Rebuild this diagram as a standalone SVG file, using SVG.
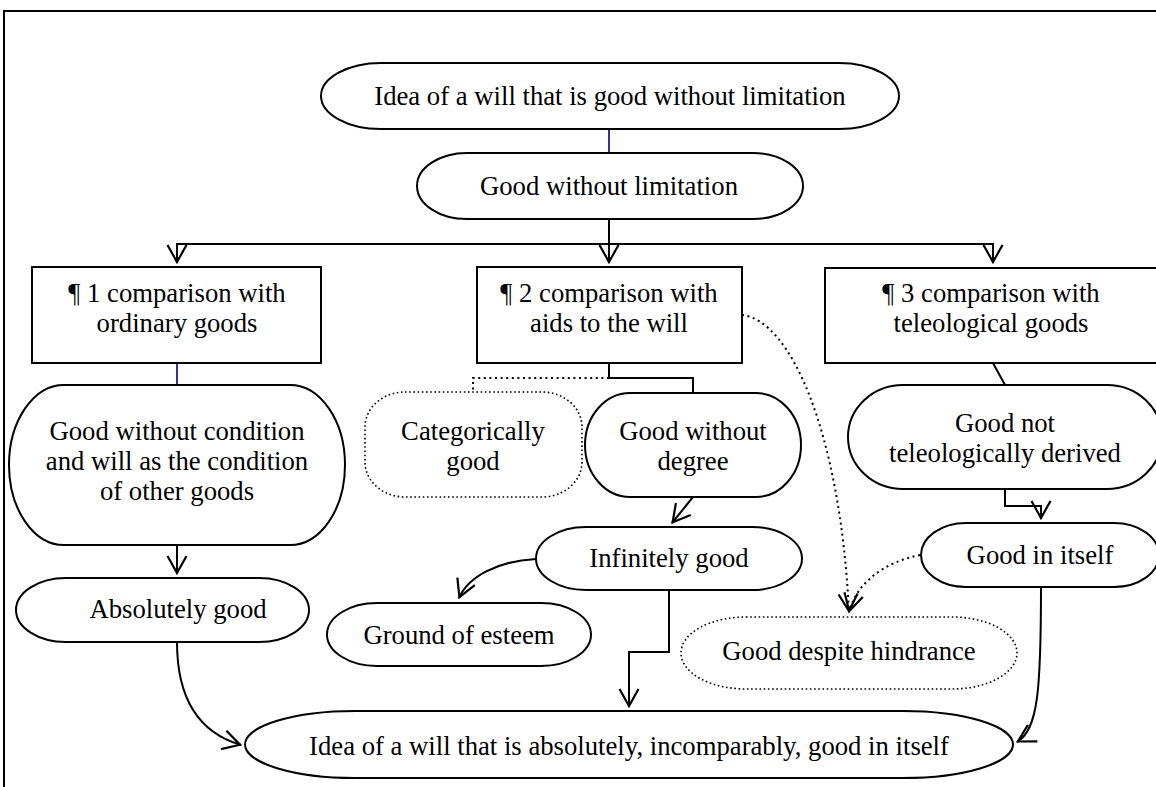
<svg xmlns="http://www.w3.org/2000/svg" width="1156" height="787" viewBox="0 0 1156 787">
  <style>
    .shape { fill: #fff; stroke: #000; stroke-width: 2; }
    .dotted { fill: #fff; stroke: #000; stroke-width: 1.6; stroke-dasharray: 1.6 2.6; }
    .lbl { font-family: "Liberation Serif", "Times New Roman", serif; font-size: 26.7px; fill: #000; text-anchor: middle; }
    .link { fill: none; stroke: #000; stroke-width: 2; }
    .blue { fill: none; stroke: #333399; stroke-width: 2; }
    .dots { fill: none; stroke: #000; stroke-width: 2; stroke-dasharray: 2 3.6; }
    .arrow { marker-end: url(#open-arrow); }
  </style>
  <defs>
    <marker id="open-arrow" markerUnits="userSpaceOnUse" markerWidth="44" markerHeight="44" viewBox="-22 -22 44 44" refX="1" refY="0" orient="auto" overflow="visible">
      <path d="M-17,-9.5 L0,0 L-17,9.5" fill="none" stroke="#000" stroke-width="2.2"/>
    </marker>
  </defs>

  <rect width="1156" height="787" fill="#fff"/>
  <!-- outer frame -->
  <path d="M4,800 V11 H1170" fill="none" stroke="#000" stroke-width="2"/>

  <g id="connectors">
    <path class="blue" d="M609,129 V153"/>
    <path class="link arrow" d="M609,219 V263" stroke-width="2.6"/>
    <path class="link arrow" d="M609,244 H177 V263"/>
    <path class="link arrow" d="M609,244 H993 V263"/>
    <path class="blue" d="M177,363 V385"/>
    <path class="link arrow" d="M177,545 V574"/>
    <path class="link arrow" d="M177,642 C177,700 200,733 241,745"/>
    <path class="link" d="M609,363 V378 H693 V393"/>
    <path class="dots" d="M609,378 H473 V392" stroke-width="1.6" stroke-dasharray="1.6 2.6"/>
    <path class="link arrow" d="M693,497 L672,523"/>
    <path class="link arrow" d="M536,559 C497,561 468,577 459,598"/>
    <path class="link arrow" d="M669,590 V652 H629 V707"/>
    <path class="dots arrow" d="M742,315 C790,320 840,430 849,612"/>
    <path class="dots arrow" d="M920,555 C885,562 857,582 849,612"/>
    <path class="link" d="M993,363 L1005,385"/>
    <path class="link arrow" d="M1005,489 V506 H1041 V519"/>
    <path class="link arrow" d="M1041,587 C1041,690 1038,730 1017,742"/>
  </g>

  <g id="idea-top">
    <rect class="shape" x="321" y="63" width="578" height="66" rx="60" ry="33"/>
    <text class="lbl" x="610" y="105">Idea of a will that is good without limitation</text>
  </g>
  <g id="good-without-limitation">
    <rect class="shape" x="417" y="153" width="386" height="66" rx="50" ry="33"/>
    <text class="lbl" x="609" y="195">Good without limitation</text>
  </g>
  <g id="para-1">
    <rect class="shape" x="32" y="267" width="289" height="96"/>
    <text class="lbl" x="177" y="302">¶ 1 comparison with</text>
    <text class="lbl" x="177" y="332">ordinary goods</text>
  </g>
  <g id="para-2">
    <rect class="shape" x="477" y="267" width="265" height="96"/>
    <text class="lbl" x="609" y="302">¶ 2 comparison with</text>
    <text class="lbl" x="609" y="332">aids to the will</text>
  </g>
  <g id="para-3">
    <rect class="shape" x="825" y="268" width="333" height="95"/>
    <text class="lbl" x="991" y="302">¶ 3 comparison with</text>
    <text class="lbl" x="991" y="332">teleological goods</text>
  </g>
  <g id="good-without-condition">
    <rect class="shape" x="9" y="385" width="336" height="160" rx="55" ry="80"/>
    <text class="lbl" x="177" y="440">Good without condition</text>
    <text class="lbl" x="177" y="470">and will as the condition</text>
    <text class="lbl" x="177" y="500">of other goods</text>
  </g>
  <g id="absolutely-good">
    <rect class="shape" x="16" y="578" width="293" height="64" rx="50" ry="32"/>
    <text class="lbl" x="178" y="618">Absolutely good</text>
  </g>
  <g id="categorically-good">
    <rect class="dotted" x="365" y="392" width="217" height="105" rx="40" ry="35"/>
    <text class="lbl" x="473" y="440">Categorically</text>
    <text class="lbl" x="473" y="470">good</text>
  </g>
  <g id="good-without-degree">
    <rect class="shape" x="585" y="393" width="216" height="104" rx="45" ry="52"/>
    <text class="lbl" x="693" y="440">Good without</text>
    <text class="lbl" x="693" y="470">degree</text>
  </g>
  <g id="infinitely-good">
    <rect class="shape" x="536" y="527" width="266" height="63" rx="50" ry="31.5"/>
    <text class="lbl" x="669" y="567">Infinitely good</text>
  </g>
  <g id="ground-of-esteem">
    <rect class="shape" x="327" y="603" width="264" height="63" rx="50" ry="31.5"/>
    <text class="lbl" x="459" y="644">Ground of esteem</text>
  </g>
  <g id="good-not-teleological">
    <rect class="shape" x="848" y="385" width="314" height="104" rx="55" ry="52"/>
    <text class="lbl" x="1005" y="432">Good not</text>
    <text class="lbl" x="1005" y="462">teleologically derived</text>
  </g>
  <g id="good-in-itself">
    <rect class="shape" x="921" y="523" width="238" height="64" rx="45" ry="32"/>
    <text class="lbl" x="1040" y="564">Good in itself</text>
  </g>
  <g id="good-despite-hindrance">
    <rect class="dotted" x="681" y="617" width="336" height="72" rx="65" ry="36"/>
    <text class="lbl" x="849" y="660">Good despite hindrance</text>
  </g>
  <g id="idea-bottom">
    <rect class="shape" x="245" y="711" width="768" height="67" rx="110" ry="33.5"/>
    <text class="lbl" x="629" y="755">Idea of a will that is absolutely, incomparably, good in itself</text>
  </g>
</svg>
